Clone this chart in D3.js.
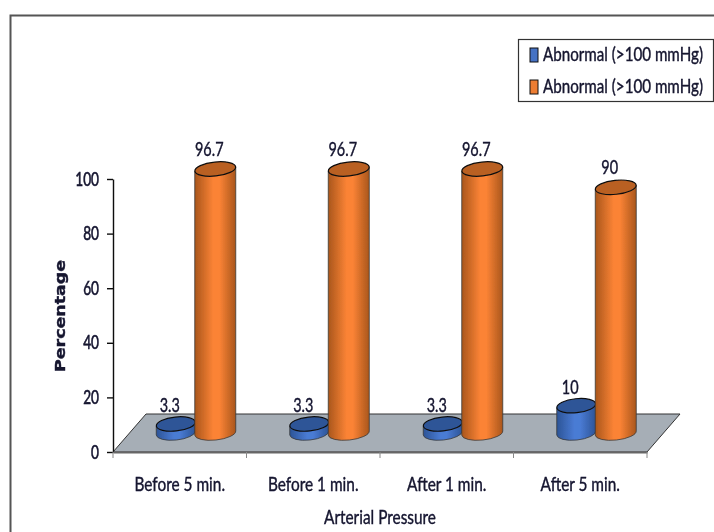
<!DOCTYPE html>
<html>
<head>
<meta charset="utf-8">
<script src="https://cdn.jsdelivr.net/npm/d3@7"></script>
<style>
  html, body { margin: 0; padding: 0; background: #fff; }
  svg { display: block; }
  text { font-family: Lato, "Open Sans", sans-serif; fill: #14142e; stroke: #14142e; stroke-width: 0.4px; }
</style>
</head>
<body>
<svg id="chart"></svg>
<script>
var width = 714, height = 532;

var categories = ["Before 5 min.", "Before 1 min.", "After 1 min.", "After 5 min."];
var blueValues = [3.3, 3.3, 3.3, 10];
var orangeValues = [96.7, 96.7, 96.7, 90];
var yTicks = [0, 20, 40, 60, 80, 100];
var legendLabels = ["Abnormal (>100 mmHg)", "Abnormal (>100 mmHg)"];

var svg = d3.select("#chart").attr("width", width).attr("height", height);

var x = d3.scaleBand().domain(categories).range([113, 647]);
var y = d3.scaleLinear().domain([0, 100]).range([452, 179]);

var defs = svg.append("defs");

// slight softening, the original is a scaled up screenshot
defs.append("filter").attr("id", "soft")
    .append("feGaussianBlur").attr("stdDeviation", 0.45);

function cylGradient(id, edge, mid) {
    var g = defs.append("linearGradient").attr("id", id);
    g.append("stop").attr("offset", "0%").attr("stop-color", edge);
    g.append("stop").attr("offset", "45%").attr("stop-color", mid);
    g.append("stop").attr("offset", "60%").attr("stop-color", mid);
    g.append("stop").attr("offset", "100%").attr("stop-color", edge);
}
cylGradient("orangeSide", "#a9561c", "#fb8335");
cylGradient("blueSide", "#2c5496", "#4a7bd4");

// squeeze text horizontally to the condensed look of the original
function narrow(sel, k) {
    sel.each(function() {
        this.setAttribute("textLength", this.getComputedTextLength() * k);
        this.setAttribute("lengthAdjust", "spacingAndGlyphs");
    });
    return sel;
}

var root = svg.append("g").attr("filter", "url(#soft)");

// outer frame
root.append("path")
    .attr("d", "M10.5,532V15.5H714")
    .attr("fill", "none")
    .attr("stroke", "#555")
    .attr("stroke-width", 2);

// floor of the 3d plot
var floorDepth = 33, floorRise = y(0) - 414;
root.append("path")
    .attr("d", d3.line()([
        [x.range()[0], y(0)],
        [x.range()[0] + floorDepth, y(0) - floorRise],
        [x.range()[1] + floorDepth, y(0) - floorRise],
        [x.range()[1], y(0)]
    ]) + "Z")
    .attr("fill", "#a6aeb6")
    .attr("stroke", "#333")
    .attr("stroke-width", 1);

// axes
var yAxis = d3.axisLeft(y).tickValues(yTicks).tickSize(6).tickSizeOuter(0);
var yG = root.append("g").attr("transform", "translate(113,0)").call(yAxis);
yG.selectAll("line, path").attr("stroke", "#111").attr("stroke-width", 1.4);
yG.selectAll("text").style("font-size", "19px").style("stroke-width", "0.6px").attr("dx", -5);
narrow(yG.selectAll("text"), 0.72);

var xAxis = d3.axisBottom(x).tickSize(0).tickPadding(26);
var xG = root.append("g").attr("transform", "translate(0,452)").call(xAxis);
xG.select("path").attr("stroke", "#666").attr("stroke-width", 2);
xG.selectAll("text").style("font-size", "19px");
narrow(xG.selectAll("text"), 0.81);
xG.selectAll(".sep").data(categories.concat(["end"])).enter().append("line")
    .attr("x1", function(d, i) { return x.range()[0] + i * x.step(); })
    .attr("x2", function(d, i) { return x.range()[0] + i * x.step(); })
    .attr("y1", 0).attr("y2", 6)
    .attr("stroke", "#888");

// cylinder stands on the floor, this far above the axis line
var baseLift = 19;
var tilt = 6; // the ellipses lean up to the right

function cylinder(g, cx, value, rx, ry, side, top, label, labelDy) {
    var yBase = y(0) - baseLift;
    var yTop = yBase - (y(0) - y(value));
    var dy = rx * Math.sin(tilt * Math.PI / 180);
    g.append("path")
        .attr("d", "M" + (cx - rx) + "," + (yTop + dy) +
            "V" + (yBase + dy) +
            "A" + rx + "," + ry + " " + (-tilt) + " 0 0 " + (cx + rx) + "," + (yBase - dy) +
            "V" + (yTop - dy) + "Z")
        .attr("fill", "url(#" + side + ")")
        .attr("stroke", "#3a3a3a")
        .attr("stroke-width", 0.8);
    g.append("ellipse")
        .attr("transform", "translate(" + cx + "," + yTop + ") rotate(" + (-tilt) + ")")
        .attr("rx", rx).attr("ry", ry)
        .attr("fill", top)
        .attr("stroke", "#111")
        .attr("stroke-width", 1.2);
    var t = g.append("text")
        .attr("x", cx - 6).attr("y", yTop - labelDy)
        .attr("text-anchor", "middle")
        .style("font-size", "19px")
        .text(label);
    narrow(t, 0.76);
}

var center = function(d) { return x(d) + x.bandwidth() / 2; };

var bars = root.append("g");
categories.forEach(function(c, i) {
    cylinder(bars, center(c) - 4, blueValues[i], 19.5, 7, "blueSide", "#2f5597", blueValues[i], 12);
    cylinder(bars, center(c) + 35.5, orangeValues[i], 20.5, 7, "orangeSide", "#b96022", orangeValues[i], 13);
});

// axis titles
var xTitle = root.append("text")
    .attr("x", 380).attr("y", 524)
    .attr("text-anchor", "middle")
    .style("font-size", "19px")
    .text("Arterial Pressure");
narrow(xTitle, 0.81);

var yTitle = root.append("text")
    .attr("transform", "translate(65,316) rotate(-90)")
    .attr("text-anchor", "middle")
    .style("font-family", "'DejaVu Sans', sans-serif")
    .style("font-size", "14px").style("font-weight", "bold")
    .text("Percentage");
yTitle.attr("textLength", 112).attr("lengthAdjust", "spacingAndGlyphs");

// legend
root.append("rect")
    .attr("x", 518.5).attr("y", 39.5)
    .attr("width", 195).attr("height", 62)
    .attr("fill", "#fff")
    .attr("stroke", "#333")
    .attr("stroke-width", 1.2);

var legendColors = ["#4472c4", "#ed7d31"];
legendLabels.forEach(function(t, i) {
    var ly = 55 + i * 32;
    root.append("rect")
        .attr("x", 530).attr("y", ly - 7)
        .attr("width", 8).attr("height", 14)
        .attr("fill", legendColors[i])
        .attr("stroke", "#111");
    var lt = root.append("text")
        .style("font-size", "19px")
        .text(t);
    // scale instead of textLength, the box is tight against the page edge
    var k = 160 / lt.node().getComputedTextLength();
    lt.attr("transform", "translate(543," + (ly + 6) + ") scale(" + k + ",1)");
});
</script>
</body>
</html>
